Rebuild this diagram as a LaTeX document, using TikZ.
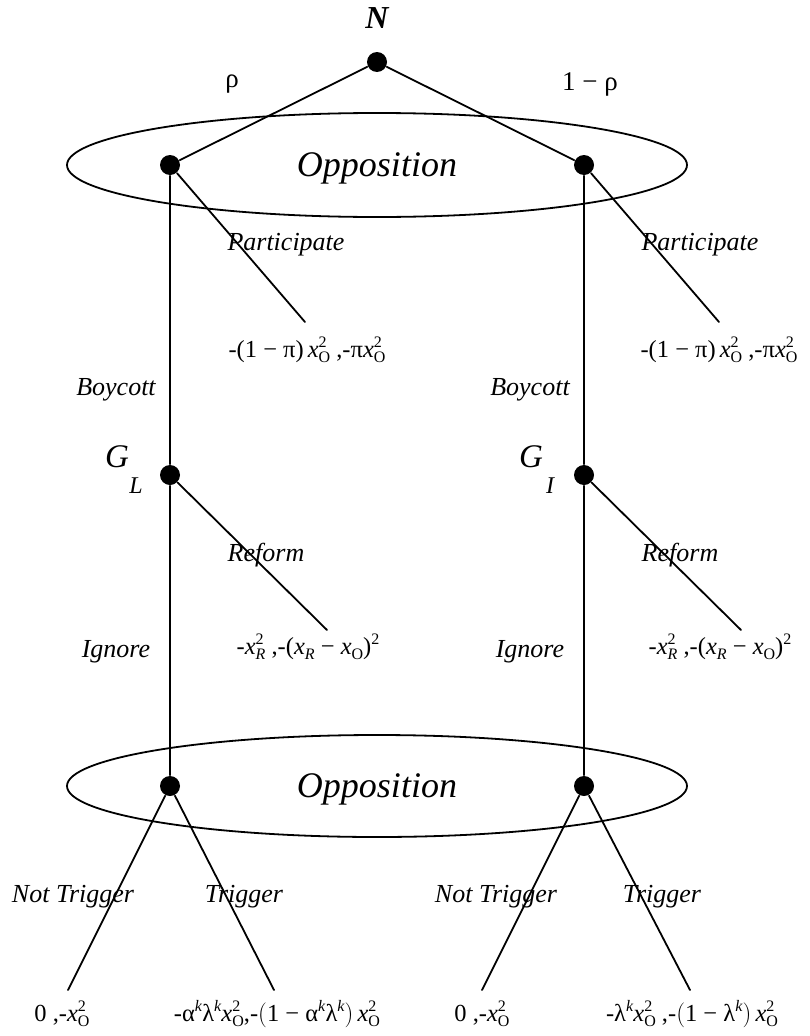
\documentclass[tikz,border=0pt]{standalone}
\usepackage{fontspec}
\setmainfont{Liberation Serif}
\usetikzlibrary{positioning}

\newcommand{\payhi}[1]{\raisebox{9.5pt}{\fontsize{16}{16}\selectfont #1}}
\newcommand{\paylo}[1]{\raisebox{-5pt}{\fontsize{16}{16}\selectfont #1}}
\newcommand{\xsq}{\textit{x}\rlap{\payhi{2}}\paylo{O}}

\begin{document}
\begin{tikzpicture}[x=1pt, y=-1pt, line width=1.8pt, line cap=round, line join=round,
  decision/.style={circle, fill=black, inner sep=0pt, minimum size=20pt},
  move/.style={font=\fontsize{26}{28}\selectfont\itshape, inner sep=0pt},
  pay/.style={font=\fontsize{24.5}{26}\selectfont, inner sep=0pt},
  infoset/.style={font=\fontsize{36}{38}\selectfont\itshape, inner sep=0pt}]
  \useasboundingbox (0,0) rectangle (809,1036);
  % information sets of the opposition
  \draw (377,165) ellipse [x radius=310pt, y radius=52pt];
  \draw (377,786) ellipse [x radius=310pt, y radius=51pt];
  \node[infoset] (setTop) at (377,168) {Opposition};
  \node[infoset] (setBot) at (377,789) {Opposition};
  % decision nodes
  \node[decision] (nature) at (377,62) {};
  \node[decision] (oppL) at (170,165) {};
  \node[decision] (oppR) at (584,165) {};
  \node[decision] (govL) at (170,475) {};
  \node[decision] (govR) at (584,475) {};
  \node[decision] (oppLL) at (170,786) {};
  \node[decision] (oppRR) at (584,786) {};
  % player names
  \node[font=\fontsize{32}{32}\selectfont\bfseries\itshape] (natName) at (377,18) {N};
  \node[font=\fontsize{33}{33}\selectfont\itshape] (govLName) at (117,457) {G};
  \node[font=\fontsize{24}{24}\selectfont\itshape] (govLSub) at (136,486) {L};
  \node[font=\fontsize{33}{33}\selectfont\itshape] (govRName) at (531,457) {G};
  \node[font=\fontsize{24}{24}\selectfont\itshape] (govRSub) at (550,486) {I};
  % terminal points
  \coordinate (endPartL) at (305,322);
  \coordinate (endPartR) at (719,322);
  \coordinate (endRefL) at (327,630);
  \coordinate (endRefR) at (741,630);
  \coordinate (endNotL) at (68,990);
  \coordinate (endTrgL) at (274,990);
  \coordinate (endNotR) at (482,990);
  \coordinate (endTrgR) at (690,990);
  % branches
  \draw (nature) -- (oppL);
  \draw (nature) -- (oppR);
  \draw (oppL) -- (endPartL);
  \draw (oppR) -- (endPartR);
  \draw (oppL) -- (govL);
  \draw (oppR) -- (govR);
  \draw (govL) -- (endRefL);
  \draw (govR) -- (endRefR);
  \draw (govL) -- (oppLL);
  \draw (govR) -- (oppRR);
  \draw (oppLL) -- (endNotL);
  \draw (oppLL) -- (endTrgL);
  \draw (oppRR) -- (endNotR);
  \draw (oppRR) -- (endTrgR);
  % move labels
  \node[pay, font=\fontsize{27}{28}\selectfont] (probL) at (232,84) {ρ};
  \node[pay, font=\fontsize{27}{28}\selectfont] (probR) at (590,84) {1 − ρ};
  \node[move] (partL) at (286,245) {Participate};
  \node[move] (partR) at (700,245) {Participate};
  \node[move] (boyL) at (116,390) {Boycott};
  \node[move] (boyR) at (530,390) {Boycott};
  \node[move] (refL) at (266,555) {Reform};
  \node[move] (refR) at (680,555) {Reform};
  \node[move] (ignL) at (116,652) {Ignore};
  \node[move] (ignR) at (530,652) {Ignore};
  \node[move] (notL) at (73,897) {Not Trigger};
  \node[move] (trgL) at (244,897) {Trigger};
  \node[move] (notR) at (496,897) {Not Trigger};
  \node[move] (trgR) at (662,897) {Trigger};
  % payoffs
  \node[pay] (payPartL) at (307,350) {-(1 − π)\,\xsq\ ,-π\xsq};
  \node[pay] (payPartR) at (719,350) {-(1 − π)\,\xsq\ ,-π\xsq};
  \node[pay] (payRefL) at (308,647) {-\textit{x}\rlap{\payhi{2}}\paylo{\textit{R}} ,-(\textit{x}\paylo{\textit{R}} − \textit{x}\paylo{O})\payhi{2}};
  \node[pay] (payRefR) at (720,647) {-\textit{x}\rlap{\payhi{2}}\paylo{\textit{R}} ,-(\textit{x}\paylo{\textit{R}} − \textit{x}\paylo{O})\payhi{2}};
  \node[pay] (payNotL) at (62,1014) {0 ,-\xsq};
  \node[pay] (payTrgL) at (277,1014) {-α\payhi{\textit{k}}λ\payhi{\textit{k}}\xsq,-\big(1 − α\payhi{\textit{k}}λ\payhi{\textit{k}}\big)\,\xsq};
  \node[pay] (payNotR) at (482,1014) {0 ,-\xsq};
  \node[pay] (payTrgR) at (692,1014) {-λ\payhi{\textit{k}}\xsq\ ,-\big(1 − λ\payhi{\textit{k}}\big)\,\xsq};
\end{tikzpicture}
\end{document}
